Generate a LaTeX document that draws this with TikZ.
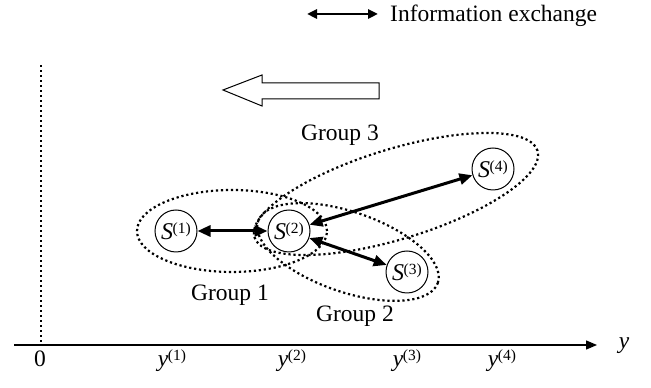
\documentclass[tikz,border=0pt]{standalone}
\usepackage{fontspec}
\setmainfont{Liberation Serif}
\usetikzlibrary{arrows.meta}
\newcommand{\mysup}[1]{\kern-0.5pt\raisebox{6pt}{\fontsize{15.5}{15.5}\selectfont(#1)}}
\begin{document}
\begin{tikzpicture}[x=1pt,y=1pt,
  txt/.style={font=\fontsize{23.5}{26}\selectfont, inner sep=0pt},
  agent/.style={circle, draw, line width=1pt, minimum size=42pt, inner sep=0pt, font=\fontsize{24}{26}\selectfont},
  exch/.style={line width=3pt, {Triangle[length=13pt,width=11pt]}-{Triangle[length=13pt,width=11pt]}},
  legarrow/.style={line width=2.5pt, {Triangle[length=10pt,width=9pt]}-{Triangle[length=10pt,width=9pt]}},
  axisline/.style={line width=1.3pt, -{Triangle[length=11pt,width=9pt]}},
  grp/.style={line width=2.2pt, dash pattern=on 2.2pt off 2.8pt},
  hollow/.style={line width=1pt, draw=black, fill=white},
]
\useasboundingbox (0,0) rectangle (651,388);

% legend
\coordinate (lg0) at (307,374);
\coordinate (lg1) at (378,374);
\draw[legarrow] (lg0) -- (lg1);
\node[txt, anchor=base west] (legtxt) at (390,366) {Information exchange};

% big hollow arrow
\draw[hollow] (379,305) -- (262,305) -- (262,313) -- (223,298) -- (262,282) -- (262,289) -- (379,289) -- cycle;

% vertical dotted line and axis
\coordinate (v0) at (41,46);
\coordinate (v1) at (41,323);
\draw[grp] (v0) -- (v1);
\coordinate (ax0) at (14,43);
\coordinate (ax1) at (597,43);
\draw[axisline] (ax0) -- (ax1);
\node[txt, anchor=base] (ylab) at (624,39) {\textit{y}};
\node[txt, anchor=base] (zero) at (40,21) {0};
\node[txt, anchor=base] (y1) at (172,21) {\textit{y}\mysup{1}};
\node[txt, anchor=base] (y2) at (292,21) {\textit{y}\mysup{2}};
\node[txt, anchor=base] (y3) at (407,21) {\textit{y}\mysup{3}};
\node[txt, anchor=base] (y4) at (502,21) {\textit{y}\mysup{4}};

% groups
\draw[grp] (232,157) ellipse [x radius=95, y radius=41];
\draw[grp] (348,136) ellipse [x radius=95, y radius=40, rotate=-19];
\draw[grp] (396,194) ellipse [x radius=148, y radius=45, rotate=17];

\node[txt] (g1) at (230,93) {Group 1};
\node[txt] (g2) at (355,72) {Group 2};
\node[txt] (g3) at (340,253) {Group 3};

% agents
\node[agent] (s1) at (176,157) {\textit{S}\mysup{1}};
\node[agent] (s2) at (289,157) {\textit{S}\mysup{2}};
\node[agent] (s3) at (407,116) {\textit{S}\mysup{3}};
\node[agent] (s4) at (493,219) {\textit{S}\mysup{4}};

\draw[exch] (s1) -- (s2);
\draw[exch] (s2) -- (s3);
\draw[exch] (s2) -- (s4);
\end{tikzpicture}
\end{document}
